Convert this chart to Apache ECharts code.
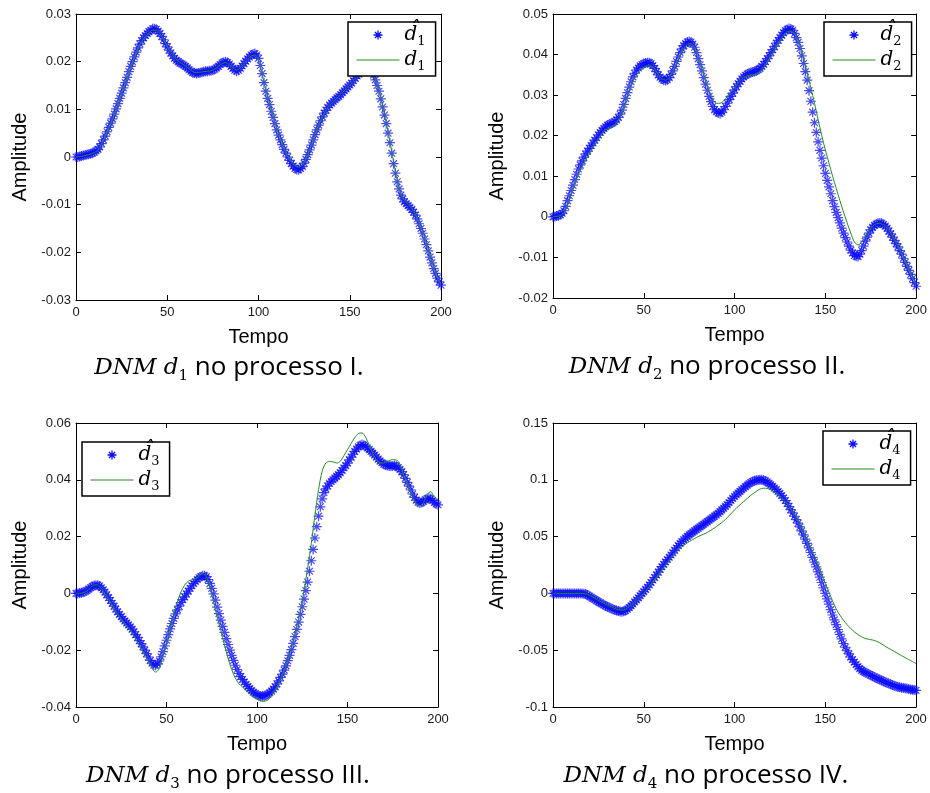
<!DOCTYPE html>
<html><head><meta charset="utf-8">
<script src="https://cdn.jsdelivr.net/npm/echarts@6/dist/echarts.min.js"></script>
<style>html,body{margin:0;padding:0;background:#fff}#c{width:930px;height:793px}</style>
</head><body><div id="c"></div>
<script>
// ---------- data ----------
// sample times of the estimated signals (every time step)
const tempoHat = [0,1,2,3,4,5,6,7,8,9,10,11,12,13,14,15,16,17,18,19,20,21,22,23,24,25,26,27,28,29,30,31,32,33,34,35,36,37,38,39,40,41,42,43,44,45,46,47,48,49,50,51,52,53,54,55,56,57,58,59,60,61,62,63,64,65,66,67,68,69,70,71,72,73,74,75,76,77,78,79,80,81,82,83,84,85,86,87,88,89,90,91,92,93,94,95,96,97,98,99,100,101,102,103,104,105,106,107,108,109,110,111,112,113,114,115,116,117,118,119,120,121,122,123,124,125,126,127,128,129,130,131,132,133,134,135,136,137,138,139,140,141,142,143,144,145,146,147,148,149,150,151,152,153,154,155,156,157,158,159,160,161,162,163,164,165,166,167,168,169,170,171,172,173,174,175,176,177,178,179,180,181,182,183,184,185,186,187,188,189,190,191,192,193,194,195,196,197,198,199,200];
// sample times of the true signals
const tempo = [0,2,4,6,8,10,12,14,16,18,20,22,24,26,28,30,32,34,36,38,40,42,44,46,48,50,52,54,56,58,60,62,64,66,68,70,72,74,76,78,80,82,84,86,88,90,92,94,96,98,100,102,104,106,108,110,112,114,116,118,120,122,124,126,128,130,132,134,136,138,140,142,144,146,148,150,152,154,156,158,160,162,164,166,168,170,172,174,176,178,180,182,184,186,188,190,192,194,196,198,200];

const hat1 = [0.0000,0.0000,0.0001,0.0002,0.0003,0.0004,0.0005,0.0006,0.0007,0.0008,
0.0010,0.0013,0.0016,0.0021,0.0028,0.0036,0.0044,0.0053,0.0062,0.0071,
0.0080,0.0090,0.0101,0.0112,0.0123,0.0134,0.0145,0.0156,0.0167,0.0179,
0.0190,0.0200,0.0210,0.0220,0.0229,0.0237,0.0244,0.0250,0.0255,0.0259,
0.0263,0.0266,0.0269,0.0269,0.0268,0.0264,0.0259,0.0253,0.0246,0.0238,
0.0231,0.0224,0.0218,0.0212,0.0207,0.0203,0.0200,0.0197,0.0195,0.0193,
0.0190,0.0187,0.0183,0.0180,0.0177,0.0176,0.0175,0.0176,0.0177,0.0178,
0.0179,0.0180,0.0180,0.0181,0.0181,0.0182,0.0184,0.0187,0.0190,0.0194,
0.0197,0.0199,0.0200,0.0198,0.0195,0.0190,0.0186,0.0182,0.0180,0.0182,
0.0186,0.0191,0.0196,0.0201,0.0206,0.0210,0.0214,0.0216,0.0217,0.0214,
0.0207,0.0192,0.0175,0.0156,0.0138,0.0123,0.0110,0.0096,0.0083,0.0070,
0.0057,0.0046,0.0036,0.0026,0.0016,0.0008,0.0000,-0.0007,-0.0014,-0.0019,
-0.0024,-0.0026,-0.0027,-0.0024,-0.0020,-0.0013,-0.0005,0.0005,0.0015,0.0025,
0.0036,0.0047,0.0057,0.0067,0.0076,0.0084,0.0092,0.0098,0.0104,0.0109,
0.0113,0.0117,0.0120,0.0124,0.0127,0.0131,0.0135,0.0139,0.0143,0.0147,
0.0151,0.0155,0.0160,0.0165,0.0170,0.0174,0.0178,0.0181,0.0184,0.0185,
0.0185,0.0183,0.0180,0.0172,0.0162,0.0150,0.0138,0.0122,0.0105,0.0088,
0.0070,0.0050,0.0030,0.0008,-0.0014,-0.0034,-0.0052,-0.0067,-0.0080,-0.0088,
-0.0094,-0.0098,-0.0102,-0.0106,-0.0110,-0.0116,-0.0122,-0.0130,-0.0140,-0.0150,
-0.0160,-0.0172,-0.0184,-0.0197,-0.0210,-0.0222,-0.0234,-0.0244,-0.0254,-0.0262,
-0.0269];
const d1 = [0.0000,0.0001,0.0002,0.0004,0.0006,0.0009,0.0015,0.0026,0.0042,0.0060,
0.0078,0.0099,0.0121,0.0143,0.0165,0.0188,0.0208,0.0227,0.0242,0.0253,
0.0261,0.0266,0.0266,0.0259,0.0247,0.0232,0.0219,0.0208,0.0201,0.0196,
0.0191,0.0185,0.0179,0.0177,0.0178,0.0179,0.0180,0.0181,0.0184,0.0190,
0.0196,0.0198,0.0194,0.0187,0.0182,0.0187,0.0196,0.0205,0.0212,0.0214,
0.0205,0.0175,0.0140,0.0112,0.0085,0.0060,0.0039,0.0020,0.0004,-0.0009,
-0.0018,-0.0021,-0.0016,-0.0003,0.0016,0.0037,0.0057,0.0076,0.0092,0.0104,
0.0113,0.0120,0.0127,0.0135,0.0143,0.0151,0.0160,0.0170,0.0178,0.0183,
0.0184,0.0179,0.0162,0.0139,0.0107,0.0072,0.0033,-0.0010,-0.0048,-0.0077,
-0.0091,-0.0100,-0.0108,-0.0120,-0.0138,-0.0157,-0.0181,-0.0207,-0.0231,-0.0251,
-0.0266];

const hat2 = [0.0000,0.0001,0.0002,0.0003,0.0005,0.0009,0.0015,0.0026,0.0040,0.0052,
0.0065,0.0078,0.0092,0.0105,0.0118,0.0128,0.0138,0.0147,0.0155,0.0162,
0.0169,0.0176,0.0182,0.0189,0.0195,0.0202,0.0208,0.0213,0.0218,0.0222,
0.0226,0.0228,0.0230,0.0232,0.0235,0.0239,0.0245,0.0253,0.0263,0.0277,
0.0292,0.0306,0.0320,0.0333,0.0345,0.0354,0.0362,0.0367,0.0372,0.0375,
0.0378,0.0379,0.0380,0.0380,0.0378,0.0373,0.0366,0.0358,0.0350,0.0344,
0.0340,0.0337,0.0336,0.0338,0.0343,0.0351,0.0360,0.0371,0.0383,0.0394,
0.0405,0.0414,0.0422,0.0427,0.0431,0.0432,0.0431,0.0426,0.0418,0.0405,
0.0390,0.0375,0.0360,0.0343,0.0327,0.0312,0.0297,0.0284,0.0272,0.0264,
0.0259,0.0256,0.0255,0.0258,0.0264,0.0272,0.0280,0.0289,0.0297,0.0305,
0.0313,0.0321,0.0328,0.0334,0.0340,0.0345,0.0349,0.0352,0.0354,0.0356,
0.0357,0.0358,0.0360,0.0363,0.0366,0.0371,0.0376,0.0383,0.0390,0.0397,
0.0405,0.0412,0.0420,0.0428,0.0435,0.0442,0.0448,0.0454,0.0459,0.0462,
0.0464,0.0463,0.0460,0.0452,0.0442,0.0430,0.0415,0.0397,0.0378,0.0358,
0.0337,0.0311,0.0285,0.0258,0.0232,0.0208,0.0185,0.0164,0.0145,0.0126,
0.0107,0.0090,0.0074,0.0057,0.0040,0.0025,0.0011,-0.0002,-0.0015,-0.0028,
-0.0040,-0.0051,-0.0062,-0.0072,-0.0082,-0.0089,-0.0095,-0.0097,-0.0098,-0.0092,
-0.0083,-0.0072,-0.0060,-0.0050,-0.0040,-0.0032,-0.0026,-0.0021,-0.0018,-0.0016,
-0.0015,-0.0016,-0.0019,-0.0023,-0.0028,-0.0035,-0.0042,-0.0050,-0.0058,-0.0066,
-0.0074,-0.0083,-0.0092,-0.0102,-0.0112,-0.0122,-0.0132,-0.0142,-0.0152,-0.0162,
-0.0171];
const d2 = [0.0000,0.0001,0.0003,0.0010,0.0030,0.0055,0.0082,0.0105,0.0124,0.0140,
0.0155,0.0170,0.0184,0.0198,0.0210,0.0217,0.0220,0.0226,0.0238,0.0256,
0.0285,0.0312,0.0334,0.0350,0.0361,0.0368,0.0372,0.0372,0.0364,0.0350,
0.0340,0.0337,0.0343,0.0358,0.0378,0.0398,0.0415,0.0425,0.0427,0.0417,
0.0392,0.0365,0.0337,0.0310,0.0290,0.0280,0.0280,0.0286,0.0297,0.0308,
0.0318,0.0330,0.0340,0.0346,0.0349,0.0350,0.0352,0.0358,0.0368,0.0382,
0.0396,0.0412,0.0428,0.0442,0.0453,0.0458,0.0456,0.0445,0.0423,0.0392,
0.0355,0.0318,0.0280,0.0240,0.0200,0.0165,0.0132,0.0100,0.0070,0.0040,
0.0012,-0.0015,-0.0040,-0.0062,-0.0069,-0.0062,-0.0048,-0.0035,-0.0024,-0.0017,
-0.0016,-0.0020,-0.0028,-0.0040,-0.0055,-0.0071,-0.0088,-0.0107,-0.0127,-0.0147,
-0.0166];

const hat3 = [0.0000,0.0000,0.0001,0.0002,0.0004,0.0007,0.0010,0.0015,0.0020,0.0024,
0.0028,0.0029,0.0029,0.0026,0.0020,0.0013,0.0005,-0.0005,-0.0015,-0.0025,
-0.0035,-0.0045,-0.0055,-0.0065,-0.0074,-0.0082,-0.0090,-0.0097,-0.0104,-0.0111,
-0.0118,-0.0126,-0.0135,-0.0145,-0.0155,-0.0166,-0.0177,-0.0188,-0.0200,-0.0212,
-0.0224,-0.0236,-0.0246,-0.0252,-0.0253,-0.0248,-0.0238,-0.0223,-0.0205,-0.0185,
-0.0165,-0.0145,-0.0125,-0.0106,-0.0088,-0.0072,-0.0058,-0.0045,-0.0032,-0.0022,
-0.0012,-0.0002,0.0008,0.0018,0.0027,0.0035,0.0042,0.0049,0.0055,0.0059,
0.0062,0.0062,0.0059,0.0049,0.0035,0.0018,-0.0002,-0.0024,-0.0048,-0.0071,
-0.0094,-0.0116,-0.0137,-0.0159,-0.0180,-0.0200,-0.0218,-0.0236,-0.0253,-0.0268,
-0.0282,-0.0293,-0.0303,-0.0312,-0.0320,-0.0328,-0.0335,-0.0342,-0.0348,-0.0353,
-0.0357,-0.0360,-0.0362,-0.0362,-0.0361,-0.0358,-0.0355,-0.0350,-0.0344,-0.0337,
-0.0329,-0.0319,-0.0308,-0.0296,-0.0284,-0.0270,-0.0255,-0.0237,-0.0218,-0.0198,
-0.0176,-0.0152,-0.0127,-0.0101,-0.0074,-0.0047,-0.0020,0.0010,0.0040,0.0078,
0.0115,0.0155,0.0195,0.0235,0.0272,0.0305,0.0333,0.0355,0.0368,0.0378,
0.0388,0.0394,0.0400,0.0406,0.0412,0.0418,0.0425,0.0433,0.0442,0.0450,
0.0459,0.0470,0.0480,0.0490,0.0500,0.0508,0.0516,0.0521,0.0524,0.0522,
0.0518,0.0512,0.0506,0.0500,0.0494,0.0487,0.0480,0.0473,0.0466,0.0460,
0.0455,0.0452,0.0450,0.0449,0.0449,0.0449,0.0450,0.0448,0.0443,0.0437,
0.0429,0.0418,0.0405,0.0391,0.0378,0.0364,0.0350,0.0338,0.0328,0.0321,
0.0318,0.0320,0.0324,0.0330,0.0334,0.0335,0.0333,0.0327,0.0320,0.0315,
0.0312];
const d3 = [0.0000,0.0000,0.0002,0.0008,0.0020,0.0030,0.0030,0.0018,0.0000,-0.0020,
-0.0041,-0.0062,-0.0082,-0.0100,-0.0115,-0.0130,-0.0150,-0.0172,-0.0194,-0.0215,
-0.0235,-0.0264,-0.0277,-0.0265,-0.0222,-0.0176,-0.0125,-0.0075,-0.0030,0.0005,
0.0029,0.0043,0.0048,0.0052,0.0060,0.0070,0.0058,0.0020,-0.0030,-0.0082,
-0.0130,-0.0180,-0.0228,-0.0268,-0.0298,-0.0318,-0.0330,-0.0342,-0.0354,-0.0364,
-0.0371,-0.0378,-0.0380,-0.0375,-0.0362,-0.0341,-0.0318,-0.0290,-0.0256,-0.0214,
-0.0170,-0.0118,-0.0060,0.0010,0.0090,0.0176,0.0275,0.0365,0.0430,0.0459,
0.0465,0.0463,0.0459,0.0465,0.0485,0.0506,0.0528,0.0548,0.0563,0.0565,
0.0550,0.0522,0.0492,0.0470,0.0460,0.0459,0.0464,0.0470,0.0471,0.0465,
0.0435,0.0400,0.0368,0.0340,0.0315,0.0308,0.0320,0.0348,0.0358,0.0340,
0.0330];

const hat4 = [0,0,0,0,0,0,0,0,0,0,
0,0,0,0,0,0,0,-0.0002,-0.0006,-0.0014,
-0.0024,-0.0034,-0.0044,-0.0054,-0.0064,-0.0074,-0.0083,-0.0092,-0.0101,-0.0110,
-0.0118,-0.0125,-0.0132,-0.0139,-0.0146,-0.0151,-0.0156,-0.0160,-0.0162,-0.0158,
-0.0150,-0.0139,-0.0125,-0.0110,-0.0093,-0.0075,-0.0057,-0.0039,-0.0020,-0.0002,
0.0015,0.0035,0.0055,0.0075,0.0096,0.0118,0.0140,0.0163,0.0187,0.0211,
0.0235,0.0256,0.0277,0.0298,0.0318,0.0338,0.0358,0.0379,0.0400,0.0421,
0.0441,0.0457,0.0472,0.0487,0.0502,0.0515,0.0527,0.0539,0.0551,0.0563,
0.0574,0.0586,0.0597,0.0609,0.0620,0.0632,0.0644,0.0656,0.0668,0.0680,
0.0691,0.0705,0.0720,0.0735,0.0750,0.0766,0.0782,0.0800,0.0818,0.0836,
0.0853,0.0868,0.0883,0.0898,0.0912,0.0926,0.0940,0.0953,0.0965,0.0976,
0.0985,0.0992,0.0997,0.0999,0.1000,0.1000,0.0998,0.0990,0.0980,0.0968,
0.0956,0.0942,0.0928,0.0913,0.0897,0.0880,0.0862,0.0841,0.0818,0.0792,
0.0765,0.0737,0.0708,0.0679,0.0650,0.0618,0.0585,0.0550,0.0515,0.0478,
0.0441,0.0401,0.0360,0.0318,0.0276,0.0233,0.0190,0.0143,0.0096,0.0048,
0.0000,-0.0048,-0.0095,-0.0143,-0.0190,-0.0233,-0.0275,-0.0318,-0.0360,-0.0401,
-0.0441,-0.0474,-0.0505,-0.0533,-0.0560,-0.0583,-0.0605,-0.0626,-0.0645,-0.0661,
-0.0676,-0.0686,-0.0695,-0.0704,-0.0712,-0.0720,-0.0727,-0.0735,-0.0744,-0.0752,
-0.0759,-0.0766,-0.0773,-0.0780,-0.0787,-0.0794,-0.0800,-0.0806,-0.0812,-0.0818,
-0.0824,-0.0827,-0.0830,-0.0833,-0.0835,-0.0838,-0.0842,-0.0845,-0.0848,-0.0851,
-0.0853];
const d4 = [0,0,0,0,0,0,0,0,0,-0.0004,
-0.0015,-0.0033,-0.0052,-0.0070,-0.0087,-0.0103,-0.0118,-0.0132,-0.0143,-0.0147,
-0.0140,-0.0120,-0.0092,-0.0058,-0.0025,0.0000,0.0042,0.0083,0.0125,0.0166,
0.0206,0.0248,0.0289,0.0327,0.0362,0.0397,0.0422,0.0445,0.0465,0.0483,
0.0500,0.0515,0.0528,0.0546,0.0566,0.0588,0.0612,0.0636,0.0667,0.0700,
0.0735,0.0765,0.0794,0.0822,0.0850,0.0876,0.0898,0.0918,0.0926,0.0924,
0.0912,0.0892,0.0868,0.0840,0.0805,0.0765,0.0722,0.0675,0.0612,0.0545,
0.0471,0.0400,0.0330,0.0258,0.0172,0.0088,0.0012,-0.0065,-0.0135,-0.0190,
-0.0235,-0.0275,-0.0308,-0.0338,-0.0362,-0.0382,-0.0396,-0.0404,-0.0410,-0.0420,
-0.0435,-0.0455,-0.0475,-0.0493,-0.0511,-0.0529,-0.0547,-0.0565,-0.0583,-0.0600,
-0.0618];

const yMin  = [-0.03, -0.02, -0.04, -0.1];
const yMax  = [0.03, 0.05, 0.06, 0.15];
const yStep = [0.01, 0.01, 0.02, 0.05];
const xMin = 0, xMax = 200, xStep = 50;
const subIdx = ['1','2','3','4'];
const processo = ['I.','II.','III.','IV.'];
const xName = 'Tempo', yName = 'Amplitude';

// ---------- layout ----------
const hats = [hat1, hat2, hat3, hat4];
const ds = [d1, d2, d3, d4];
const grids = [
  {left: 76,  top: 14,  width: 365, height: 286},
  {left: 553, top: 14,  width: 364, height: 284},
  {left: 76,  top: 423, width: 362, height: 284},
  {left: 553, top: 423, width: 363, height: 284}
];
const legendPos = [{left: 348, top: 22}, {left: 824, top: 22}, {left: 82, top: 442}, {left: 823, top: 431}];
const captionPos = [[229, 368], [707, 367], [228, 776], [706, 776]];

const ASTER = 'path://M5,0L5,10M0,5L10,5M1.6,1.6L8.4,8.4M1.6,8.4L8.4,1.6';
const BLUE = '#0a0aff', GREEN = '#1f8f1f';
const tickFont = {fontFamily: 'Liberation Sans', fontSize: 13, color: '#1a1a1a'};
const HIDDEN = 'rgba(0,0,0,0)';

const xAxes = [], yAxes = [], series = [], legends = [], graphics = [];
const legendText = {};
for (let i = 0; i < 4; i++) {
  const hn = 'hat' + subIdx[i], ln = 'd' + subIdx[i];
  legendText[hn] = '{h|d\u0302}{s|' + subIdx[i] + '}';
  legendText[ln] = '{h|d}{s|' + subIdx[i] + '}';
  const common = {type: 'value', gridIndex: i, splitLine: {show: false},
    axisLine: {onZero: false, lineStyle: {color: '#000', width: 1}},
    axisTick: {inside: true, length: 5, lineStyle: {color: '#000'}}};
  xAxes.push(Object.assign({}, common, {position: 'bottom', min: xMin, max: xMax, interval: xStep,
    axisLabel: Object.assign({margin: 6}, tickFont),
    name: xName, nameLocation: 'middle', nameGap: 27,
    nameTextStyle: {fontFamily: 'Liberation Sans', fontSize: 20, color: '#000'}}));
  xAxes.push(Object.assign({}, common, {position: 'top', min: xMin, max: xMax, interval: xStep,
    axisLabel: {show: false}}));
  yAxes.push(Object.assign({}, common, {position: 'left', min: yMin[i], max: yMax[i], interval: yStep[i],
    axisLabel: Object.assign({margin: 5}, tickFont),
    name: yName, nameLocation: 'middle', nameGap: 46,
    nameTextStyle: {fontFamily: 'Liberation Sans', fontSize: 20, color: '#000'}}));
  yAxes.push(Object.assign({}, common, {position: 'right', min: yMin[i], max: yMax[i], interval: yStep[i],
    axisLabel: {show: false}}));
  series.push({name: hn, type: 'scatter', xAxisIndex: 2 * i, yAxisIndex: 2 * i,
    symbol: ASTER, symbolSize: 10, large: false,
    itemStyle: {color: 'none', borderColor: BLUE, borderWidth: 1.2, opacity: 0.75},
    data: tempoHat.map((t, k) => [t, hats[i][k]]), z: 2});
  series.push({name: ln, type: 'line', xAxisIndex: 2 * i, yAxisIndex: 2 * i,
    symbol: 'none', showSymbol: false, smooth: 0.3,
    lineStyle: {color: GREEN, width: 1}, itemStyle: {color: GREEN},
    data: tempo.map((t, k) => [t, ds[i][k]]), z: 3});
  legends.push(Object.assign({}, legendPos[i], {
    orient: 'vertical', selectedMode: false,
    backgroundColor: '#fff', borderColor: '#000', borderWidth: 1.5,
    padding: [3, 10, 3, 8], itemGap: 2, itemWidth: 43, itemHeight: 9,
    data: [{name: hn, icon: ASTER, itemStyle: {color: 'none', borderColor: BLUE, borderWidth: 1.3, opacity: 1}},
           {name: ln, itemStyle: {color: HIDDEN, borderColor: HIDDEN, borderWidth: 0},
            lineStyle: {color: GREEN, width: 1}}],
    formatter: n => legendText[n],
    textStyle: {rich: {
      h: {fontFamily: 'DejaVu Serif', fontStyle: 'italic', fontSize: 20, lineHeight: 26, color: '#000'},
      s: {fontFamily: 'DejaVu Serif', fontSize: 13, verticalAlign: 'bottom', color: '#000'}
    }}
  }));
  graphics.push({type: 'text', x: captionPos[i][0], y: captionPos[i][1], style: {
    text: '{a|DNM d}{b|' + subIdx[i] + '}{c| no processo ' + processo[i] + '}',
    align: 'center', verticalAlign: 'middle',
    rich: {
      a: {fontFamily: 'DejaVu Serif', fontStyle: 'italic', fontSize: 23, lineHeight: 32, fill: '#000', color: '#000'},
      b: {fontFamily: 'DejaVu Serif', fontSize: 15, verticalAlign: 'bottom', fill: '#000', color: '#000'},
      c: {fontFamily: 'Open Sans', fontSize: 26, lineHeight: 32, fill: '#000', color: '#000'}
    }}});
}

const chart = echarts.init(document.getElementById('c'), null, {renderer: 'canvas'});
chart.setOption({
  animation: false,
  backgroundColor: '#fff',
  grid: grids,
  xAxis: xAxes, yAxis: yAxes,
  legend: legends,
  series: series,
  graphic: graphics
});
</script></body></html>
